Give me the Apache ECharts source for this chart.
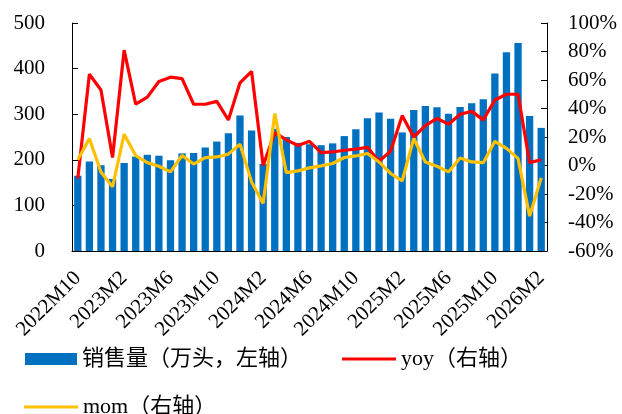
<!DOCTYPE html>
<html lang="zh-CN">

<head>
    <meta charset="UTF-8">
    <title>销售量 yoy mom</title>
    <script src="https://cdn.jsdelivr.net/npm/echarts@6/dist/echarts.min.js"></script>
    <style>
        html, body { margin: 0; padding: 0; background: #fff; }
        #mChart { width: 622px; height: 414px; }
    </style>
</head>

<body>
    <div id="mChart"></div>

    <script type="text/javascript">
        // 2022M10 ~ 2026M2
        var months = []
        for (var y = 2022, m = 10; y < 2026 || m <= 2;) {
            months.push(y + 'M' + m)
            m++
            if (m > 12) { m = 1; y++ }
        }

        var sales = [165, 196, 188, 158, 193, 207, 211, 209, 199, 214, 215, 227, 240, 258, 297, 264, 191, 268, 250, 237, 234, 232, 236, 252, 267, 291, 304, 290, 260, 309, 318, 315, 301, 316, 324, 333, 389, 436, 456, 296, 270]
        var yoy = [-9, 64, 53, 5.6, 81, 43, 48, 59, 62, 61, 43, 43, 45, 32, 58, 66, 0, 23, 18, 14, 17, 9, 9.5, 10.7, 11.5, 12.8, 3, 10, 35, 20, 28, 33, 29, 36, 38, 32, 46, 50, 50, 2, 4]
        var mom = [4, 19, -4.5, -15, 22, 7, 2, -0.5, -4.5, 7, 1, 5.5, 6, 8, 15, -11.5, -26.6, 36.4, -5, -3.8, -1.7, -0.3, 1.4, 5.6, 6.7, 8.4, 2.5, -5.6, -10.8, 19, 2.5, -0.5, -4.5, 5.3, 2.5, 2, 17, 12, 5, -35.5, -8.7]

        var serif = 'Liberation Serif, Noto Sans CJK SC'
        var mChart = echarts.init(document.getElementById('mChart'))

        var legendText = { fontFamily: serif, fontSize: 22, color: '#000' }

        mChart.setOption({
            animation: false,
            grid: { left: 72, right: 75, top: 23, bottom: 163 },
            legend: [{
                left: 20, top: 343, itemWidth: 52, itemHeight: 12,
                textStyle: legendText,
                data: [{ name: '销售量（万头，左轴）', icon: 'rect' }]
            }, {
                left: 337, top: 343, itemWidth: 54, itemHeight: 3,
                textStyle: legendText,
                data: [{ name: 'yoy（右轴）', icon: 'rect' }]
            }, {
                left: 19, top: 391, itemWidth: 54, itemHeight: 3,
                textStyle: legendText,
                data: [{ name: 'mom（右轴）', icon: 'rect' }]
            }],
            xAxis: {
                type: 'category',
                data: months,
                axisLine: { lineStyle: { color: '#000', width: 1 } },
                axisTick: { inside: true, interval: 3, length: 6, lineStyle: { color: '#000' } },
                axisLabel: {
                    interval: 3, rotate: 45, margin: 24,
                    fontFamily: serif, fontSize: 21, color: '#000'
                }
            },
            yAxis: [{
                type: 'value', min: 0, max: 500, interval: 100,
                splitLine: { show: false },
                axisLine: { show: true, lineStyle: { color: '#000' } },
                axisTick: { show: true, inside: true, length: 6, lineStyle: { color: '#000' } },
                axisLabel: { margin: 27, fontFamily: serif, fontSize: 21, color: '#000' }
            }, {
                type: 'value', min: -60, max: 100, interval: 20,
                splitLine: { show: false },
                axisLine: { show: true, lineStyle: { color: '#000' } },
                axisTick: { show: true, inside: true, length: 6, lineStyle: { color: '#000' } },
                axisLabel: { margin: 21, formatter: '{value}%', fontFamily: serif, fontSize: 21, color: '#000' }
            }],
            series: [{
                name: '销售量（万头，左轴）',
                type: 'bar',
                data: sales,
                barWidth: '63%',
                itemStyle: { color: '#0070C0' }
            }, {
                name: 'yoy（右轴）',
                type: 'line',
                yAxisIndex: 1,
                data: yoy,
                symbol: 'none',
                lineStyle: { color: '#FF0000', width: 3.2 },
                itemStyle: { color: '#FF0000' }
            }, {
                name: 'mom（右轴）',
                type: 'line',
                yAxisIndex: 1,
                data: mom,
                symbol: 'none',
                lineStyle: { color: '#FFC000', width: 3.2 },
                itemStyle: { color: '#FFC000' }
            }]
        })
    </script>
</body>

</html>
